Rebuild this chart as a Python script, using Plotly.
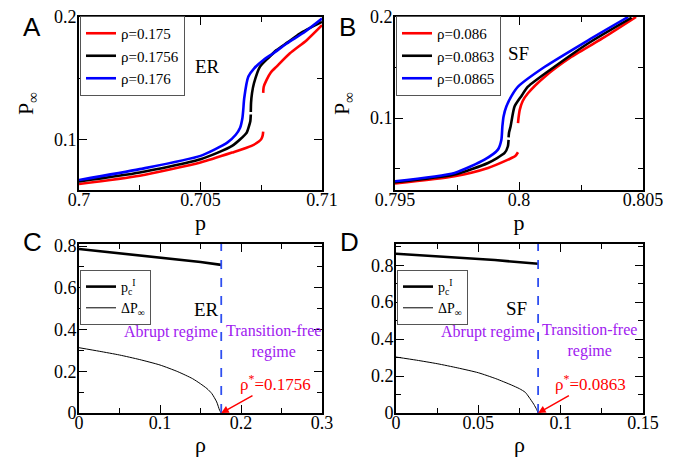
import plotly.graph_objects as go

# ---------------- Data ----------------
# Panel A (ER)
A_red_lo_p = [0.7, 0.7025, 0.705, 0.7063, 0.7071, 0.7074, 0.7075, 0.70756, 0.70758]
A_red_lo_P = [0.0639, 0.0706, 0.0814, 0.0895, 0.095, 0.0985, 0.1005, 0.1035, 0.1065]
A_red_hi_p = [0.70758, 0.7076, 0.70772, 0.7079, 0.70813, 0.70868, 0.70937, 0.71]
A_red_hi_P = [0.1382, 0.143, 0.1488, 0.155, 0.1596, 0.1704, 0.1811, 0.1933]
A_blk_lo_p = [0.7, 0.7025, 0.705, 0.7063, 0.7069, 0.70698, 0.70705, 0.70707]
A_blk_lo_P = [0.066, 0.0733, 0.0841, 0.0949, 0.1057, 0.11, 0.115, 0.1205]
A_blk_hi_p = [0.70707, 0.70708, 0.70712, 0.7072, 0.70745, 0.7078, 0.70813, 0.7086, 0.70909, 0.71]
A_blk_hi_P = [0.1225, 0.13, 0.138, 0.146, 0.1596, 0.1668, 0.173, 0.1795, 0.1865, 0.196]
A_blu_p = [0.7, 0.7025, 0.705, 0.7061, 0.70645, 0.70663, 0.70672, 0.70676, 0.7068, 0.70697,
           0.7072, 0.70759, 0.708, 0.70855, 0.7093, 0.71]
A_blu_P = [0.0671, 0.076, 0.0868, 0.0976, 0.104, 0.1097, 0.117, 0.1245, 0.134, 0.1515,
           0.158, 0.165, 0.1705, 0.1784, 0.188, 0.1987]
A_names = ["ρ=0.175", "ρ=0.1756", "ρ=0.176"]

# Panel B (SF)
B_red_lo_p = [0.795, 0.7974, 0.79875, 0.79956, 0.79985, 0.79996]
B_red_lo_P = [0.0354, 0.0426, 0.0508, 0.059, 0.0625, 0.0663]
B_red_hi_p = [0.79996, 0.79998, 0.80003, 0.80015, 0.80036, 0.80104, 0.80212, 0.80346, 0.80472]
B_red_hi_P = [0.095, 0.1, 0.1082, 0.117, 0.1246, 0.141, 0.1607, 0.1803, 0.2]
B_blk_lo_p = [0.795, 0.7974, 0.79875, 0.79942, 0.79955, 0.79958]
B_blk_lo_P = [0.0367, 0.0443, 0.0557, 0.0656, 0.072, 0.0785]
B_blk_hi_p = [0.79958, 0.7996, 0.79966, 0.79982, 0.8001, 0.80036, 0.80143, 0.80278, 0.80454]
B_blk_hi_P = [0.081, 0.086, 0.0918, 0.1115, 0.122, 0.1311, 0.1508, 0.1738, 0.1993]
B_blu_p = [0.795, 0.7974, 0.79861, 0.79915, 0.79929, 0.79933, 0.79938, 0.79949, 0.7997,
           0.79996, 0.80104, 0.80279, 0.8044]
B_blu_P = [0.0377, 0.0459, 0.059, 0.0689, 0.0787, 0.0918, 0.102, 0.1115, 0.122,
           0.1311, 0.1508, 0.177, 0.2]
B_names = ["ρ=0.086", "ρ=0.0863", "ρ=0.0865"]

# Panel C (ER)
C_pc_rho = [0, 0.05, 0.1, 0.15, 0.1756]
C_pc = [0.786, 0.766, 0.746, 0.724, 0.71]
C_dP_rho = [0, 0.025, 0.05, 0.075, 0.1, 0.122, 0.14, 0.15, 0.158, 0.164, 0.17, 0.1736, 0.1756]
C_dP = [0.313, 0.296, 0.278, 0.256, 0.230, 0.198, 0.165, 0.140, 0.117, 0.093, 0.053, 0.013, 0.0]
C_rho_star = 0.1756

# Panel D (SF)
D_pc_rho = [0, 0.03, 0.06, 0.0863]
D_pc = [0.862, 0.846, 0.828, 0.808]
D_dP_rho = [0, 0.0125, 0.025, 0.0375, 0.05, 0.0606, 0.07, 0.075, 0.0785, 0.0807, 0.0837, 0.0855, 0.0863]
D_dP = [0.303, 0.286, 0.267, 0.244, 0.218, 0.186, 0.152, 0.1315, 0.112, 0.0865, 0.047, 0.018, 0.0]
D_rho_star = 0.0863

# Tick labels
A_xticks = [0.7, 0.705, 0.71]
A_xtext = ["0.7", "0.705", "0.71"]
B_xticks = [0.795, 0.8, 0.805]
B_xtext = ["0.795", "0.8", "0.805"]
AB_yticks = [0.1, 0.2]
AB_ytext = ["0.1", "0.2"]
C_xticks = [0, 0.1, 0.2, 0.3]
C_xtext = ["0", "0.1", "0.2", "0.3"]
D_xticks = [0, 0.05, 0.1, 0.15]
D_xtext = ["0", "0.05", "0.1", "0.15"]
CD_yticks = [0, 0.2, 0.4, 0.6, 0.8]
CD_ytext = ["0", "0.2", "0.4", "0.6", "0.8"]

# ---------------- Figure ----------------
W, H = 678, 457
SERIF = "Liberation Serif, Times New Roman, Times, DejaVu Serif, serif"
SANS = "Liberation Sans, Arial, Helvetica, sans-serif"
RED, BLACK, BLUE = "#ff0000", "#000000", "#0000ff"
PURPLE = "#a020f0"

fig = go.Figure()

def add_line(x, y, color, width, xa, ya, name=None, legend="legend", show=False,
             group=None, dash=None, shape="linear"):
    fig.add_trace(go.Scatter(
        x=x, y=y, mode="lines", name=name, legend=legend, showlegend=show,
        legendgroup=group, line=dict(color=color, width=width, dash=dash, shape=shape,
                                     smoothing=0.6 if shape == "spline" else None),
        xaxis=xa, yaxis=ya, hoverinfo="skip"))

S = "spline"
# A
add_line(A_red_lo_p, A_red_lo_P, RED, 2.6, "x", "y", A_names[0], "legend", True, "a0", shape=S)
add_line(A_red_hi_p, A_red_hi_P, RED, 2.6, "x", "y", A_names[0], "legend", False, "a0", shape=S)
add_line(A_blk_lo_p, A_blk_lo_P, BLACK, 2.6, "x", "y", A_names[1], "legend", True, "a1", shape=S)
add_line(A_blk_hi_p, A_blk_hi_P, BLACK, 2.6, "x", "y", A_names[1], "legend", False, "a1", shape=S)
add_line(A_blu_p, A_blu_P, BLUE, 2.6, "x", "y", A_names[2], "legend", True, "a2", shape=S)
# B
add_line(B_red_lo_p, B_red_lo_P, RED, 2.6, "x2", "y2", B_names[0], "legend2", True, "b0", shape=S)
add_line(B_red_hi_p, B_red_hi_P, RED, 2.6, "x2", "y2", B_names[0], "legend2", False, "b0", shape=S)
add_line(B_blk_lo_p, B_blk_lo_P, BLACK, 2.6, "x2", "y2", B_names[1], "legend2", True, "b1", shape=S)
add_line(B_blk_hi_p, B_blk_hi_P, BLACK, 2.6, "x2", "y2", B_names[1], "legend2", False, "b1", shape=S)
add_line(B_blu_p, B_blu_P, BLUE, 2.6, "x2", "y2", B_names[2], "legend2", True, "b2", shape=S)
# C
add_line(C_pc_rho, C_pc, BLACK, 2.6, "x3", "y3", "p<sub>c</sub><sup>I</sup>", "legend3", True, "c0")
add_line(C_dP_rho, C_dP, BLACK, 1.0, "x3", "y3", "ΔP<sub>∞</sub>", "legend3", True, "c1", shape=S)
add_line([C_rho_star, C_rho_star], [0, 0.81], "#2f4ff0", 1.8, "x3", "y3", dash="dash")
# D
add_line(D_pc_rho, D_pc, BLACK, 2.6, "x4", "y4", "p<sub>c</sub><sup>I</sup>", "legend4", True, "d0")
add_line(D_dP_rho, D_dP, BLACK, 1.0, "x4", "y4", "ΔP<sub>∞</sub>", "legend4", True, "d1", shape=S)
add_line([D_rho_star, D_rho_star], [0, 0.915], "#2f4ff0", 1.8, "x4", "y4", dash="dash")

def px_x(a, b):
    return [a / W, b / W]

def px_y(top, bot):
    return [1 - bot / H, 1 - top / H]

tickfont = dict(family=SERIF, size=18, color="black")
titlefont = dict(family=SERIF, size=22, color="black")

def axis(domain, rng, tickvals, ticktext, minor_dtick, anchor, title=None, standoff=2, lab_off=0):
    d = dict(
        domain=domain, range=rng, anchor=anchor, automargin=False,
        tickmode="array", tickvals=tickvals, ticktext=ticktext,
        showline=True, linewidth=2, linecolor="black", mirror="allticks",
        ticks="inside", ticklen=8, tickwidth=1.2, tickcolor="black",
        showgrid=False, zeroline=False, tickfont=tickfont,
        ticklabelstandoff=lab_off,
        minor=dict(ticks="inside", ticklen=5, tickwidth=1.2, tickcolor="black",
                   dtick=minor_dtick, tick0=0, showgrid=False),
    )
    if title:
        d["title"] = dict(text=title, font=titlefont, standoff=standoff)
    return d

dAx, dBx = px_x(79, 322), px_x(395, 643)
dCx, dDx = px_x(79, 322), px_x(396, 643)
dTop, dBot = px_y(17, 190), px_y(244, 413)

XOFF, YOFF = -8, -3
fig.update_layout(
    width=W, height=H, margin=dict(l=0, r=0, t=0, b=0),
    paper_bgcolor="white", plot_bgcolor="white",
    font=dict(family=SERIF, color="black"),
    xaxis=axis(dAx, [0.7, 0.71], A_xticks, A_xtext, 0.0025, "y", "p", 0, XOFF),
    yaxis=axis(dTop, [0.059, 0.2], AB_yticks, AB_ytext, 0.05, "x", "P<sub>∞</sub>", 14, YOFF),
    xaxis2=axis(dBx, [0.795, 0.805], B_xticks, B_xtext, 0.0025, "y2", "p", 0, XOFF),
    yaxis2=axis(dTop, [0.029, 0.2], AB_yticks, AB_ytext, 0.05, "x2", "P<sub>∞</sub>", 14, YOFF),
    xaxis3=axis(dCx, [0, 0.3], C_xticks, C_xtext, 0.05, "y3", "ρ", 9, XOFF),
    yaxis3=axis(dBot, [0, 0.81], CD_yticks, CD_ytext, 0.1, "x3", None, 0, YOFF),
    xaxis4=axis(dDx, [0, 0.15], D_xticks, D_xtext, 0.025, "y4", "ρ", 9, XOFF),
    yaxis4=axis(dBot, [0, 0.915], CD_yticks, CD_ytext, 0.1, "x4", None, 0, YOFF),
)

def leg(x, y, size):
    return dict(x=x / W, y=1 - y / H, xanchor="left", yanchor="top",
                bgcolor="white", bordercolor="#555555", borderwidth=1,
                font=dict(family=SERIF, size=size, color="black"),
                tracegroupgap=0, itemwidth=30)

fig.update_layout(
    legend=leg(80, 16, 15), legend2=leg(396, 16, 15),
    legend3=leg(80, 270, 14), legend4=leg(397, 270, 14),
)

ann = []
# Panel letters
for txt, x, y in [("A", 32, 27), ("B", 347, 27), ("C", 32, 242), ("D", 349, 242)]:
    ann.append(dict(text=txt, x=x / W, y=1 - y / H, xref="paper", yref="paper",
                    xanchor="center", yanchor="middle",
                    showarrow=False, font=dict(family=SANS, size=26, color="black")))
# Network labels
nfont = dict(family=SERIF, size=19, color="black")
ann.append(dict(text="ER", x=0.70527, y=0.1593, xref="x", yref="y", showarrow=False, font=nfont))
ann.append(dict(text="SF", x=0.79996, y=0.1644, xref="x2", yref="y2", showarrow=False, font=nfont))
ann.append(dict(text="ER", x=0.158, y=0.495, xref="x3", yref="y3", showarrow=False, font=nfont))
ann.append(dict(text="SF", x=0.0729, y=0.568, xref="x4", yref="y4", showarrow=False, font=nfont))
# Regime labels
pfont = dict(family=SERIF, size=16, color=PURPLE)
ann.append(dict(text="Abrupt regime", x=0.1136, y=0.386, xref="x3", yref="y3", showarrow=False, font=pfont))
ann.append(dict(text="Transition-free<br>regime", x=0.2395, y=0.343, xref="x3", yref="y3",
                showarrow=False, font=pfont))
ann.append(dict(text="Abrupt regime", x=0.0559, y=0.4385, xref="x4", yref="y4", showarrow=False, font=pfont))
ann.append(dict(text="Transition-free<br>regime", x=0.1178, y=0.39, xref="x4", yref="y4",
                showarrow=False, font=pfont))
# rho* arrows
rfont = dict(family=SERIF, size=17, color=RED)
ann.append(dict(text="ρ<sup>*</sup>=0.1756", x=C_rho_star, y=0, xref="x3", yref="y3",
                ax=0.242, ay=0.143, axref="x3", ayref="y3", showarrow=True,
                arrowhead=2, arrowsize=1, arrowwidth=1.5, arrowcolor=RED, font=rfont))
ann.append(dict(text="ρ<sup>*</sup>=0.0863", x=D_rho_star, y=0, xref="x4", yref="y4",
                ax=0.1184, ay=0.162, axref="x4", ayref="y4", showarrow=True,
                arrowhead=2, arrowsize=1, arrowwidth=1.5, arrowcolor=RED, font=rfont))
fig.update_layout(annotations=ann)

fig.write_html("out.html", config={"responsive": False, "displayModeBar": False},
               post_script="document.body.style.margin='0';document.body.style.overflow='hidden';")
